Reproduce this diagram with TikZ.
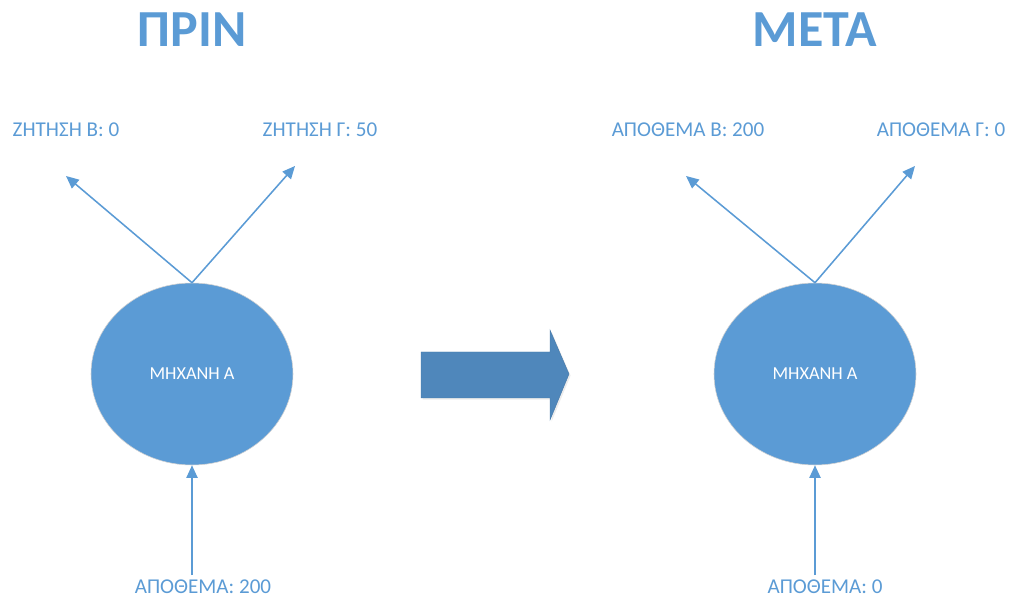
\documentclass[tikz,border=0pt]{standalone}
\usepackage{fontspec}
\setmainfont{Carlito}
\usepackage{tikz}
\usetikzlibrary{shapes,shadows,arrows.meta}
\definecolor{flowblue}{RGB}{91,155,213}
\definecolor{shiftblue}{RGB}{79,135,187}
\tikzstyle{machine}=[ellipse, draw=gray!35, line width=0.4pt, fill=flowblue, text=white, minimum width=5.05cm, minimum height=4.55cm, font=\fontsize{13}{15}\selectfont]
\tikzstyle{flowlabel}=[text=flowblue, inner sep=0pt, font=\fontsize{15}{18}\selectfont]
\tikzstyle{heading}=[text=flowblue, inner sep=0pt, font=\fontsize{37}{44}\selectfont\bfseries]
\tikzstyle{flow}=[draw=flowblue, line width=1.1pt, -{Triangle[length=9pt,width=8pt]}]
\tikzstyle{shiftarrow}=[fill=shiftblue, draw=shiftblue!90!black, line width=0.3pt, drop shadow={opacity=0.15, shadow xshift=0.4mm, shadow yshift=-0.4mm}]
\newcommand{\machine}[3]{
	\node[machine] (#1) at (#2) {#3};}
\newcommand{\flowlabel}[3]{
	\node[flowlabel] (#1) at (#2) {#3};}

\begin{document}
\begin{tikzpicture}
	\useasboundingbox (0,0) rectangle (25.225,14.975);

	\node[heading] (before) at (4.8cm,14.225cm) {ΠΡΙΝ};
	\node[heading] (after) at (20.375cm,14.225cm) {ΜΕΤΑ};

	% before
	\machine{mA}{4.8cm,5.625cm}{ΜΗΧΑΝΗ Α}
	\flowlabel{demB}{1.65cm,11.725cm}{ΖΗΤΗΣΗ Β: 0}
	\flowlabel{demG}{8.0cm,11.725cm}{ΖΗΤΗΣΗ Γ: 50}
	\flowlabel{stockA}{5.075cm,0.3cm}{ΑΠΟΘΕΜΑ: 200}
	\coordinate (demBend) at (1.65cm,10.575cm);
	\coordinate (demGend) at (7.375cm,10.825cm);
	\coordinate (stockAin) at (4.8cm,0.6cm);

	% after
	\machine{mAnew}{20.375cm,5.625cm}{ΜΗΧΑΝΗ Α}
	\flowlabel{stockB}{17.2cm,11.725cm}{ΑΠΟΘΕΜΑ Β: 200}
	\flowlabel{stockG}{23.525cm,11.725cm}{ΑΠΟΘΕΜΑ Γ: 0}
	\flowlabel{stockAnew}{20.625cm,0.3cm}{ΑΠΟΘΕΜΑ: 0}
	\coordinate (stockBend) at (17.15cm,10.575cm);
	\coordinate (stockGend) at (22.875cm,10.825cm);
	\coordinate (stockAnewin) at (20.375cm,0.6cm);

	\path[flow] (mA.north) -- (demBend);
	\path[flow] (mA.north) -- (demGend);
	\path[flow] (stockAin) -- (mA.south);
	\path[flow] (mAnew.north) -- (stockBend);
	\path[flow] (mAnew.north) -- (stockGend);
	\path[flow] (stockAnewin) -- (mAnew.south);

	% big arrow in the middle
	\path[shiftarrow] (10.525,5.025) -- (10.525,6.175) -- (13.75,6.175) -- (13.75,6.725)
		-- (14.225,5.625) -- (13.75,4.475) -- (13.75,5.025) -- cycle;
\end{tikzpicture}
\end{document}
